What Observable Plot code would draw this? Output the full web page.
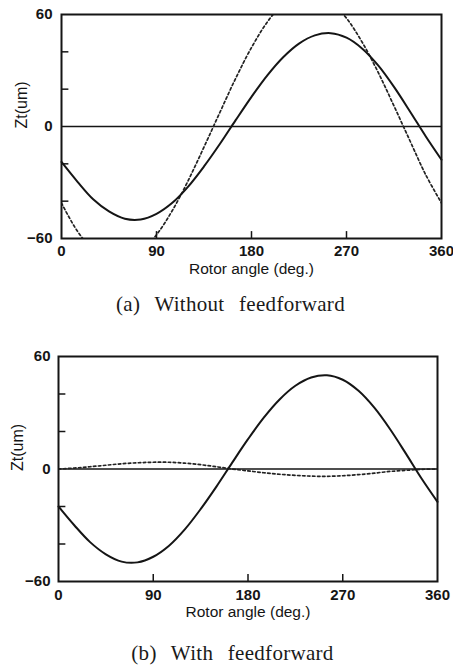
<!DOCTYPE html>
<html><head><meta charset="utf-8">
<script src="https://cdn.jsdelivr.net/npm/d3@7"></script>
<script src="https://cdn.jsdelivr.net/npm/@observablehq/plot@0.6"></script>
<style>
body{margin:0;background:#fff;width:453px;height:666px;position:relative;overflow:hidden}
.panel{position:absolute;left:0}
.cap{position:absolute;width:453px;text-align:center;font-family:"Liberation Serif","DejaVu Serif",serif;font-size:21px;line-height:24px;color:#1a1a1a;word-spacing:9px;letter-spacing:0.3px}
</style></head><body>
<div id="pa" class="panel" style="top:0"></div>
<div id="capA" class="cap" style="top:292px;left:4px">(a) Without feedforward</div>
<div id="pb" class="panel" style="top:330px"></div>
<div id="capB" class="cap" style="top:641px;left:6px">(b) With feedforward</div>
<script>
// Rotor angle samples (deg.)
const angles = [0,15,30,45,60,75,90,105,120,135,150,165,180,195,210,225,240,255,270,285,300,315,330,345,360];
// Zt (um), solid curve (measured), in each panel
const solidA = [-19,-29.5,-39,-45.5,-49.4,-49.8,-46.8,-40.9,-32.2,-21.4,-9.4,3.4,15.9,27.4,37.1,44.4,48.8,50,47.6,41.7,32.7,21.2,8.2,-5.2,-17.8];
const solidB = [-20,-30,-39,-45.5,-49.4,-49.8,-46.8,-40.9,-32.2,-21.4,-9.4,3.4,15.9,27.4,37.1,44.4,48.8,50,47.6,41.7,32.7,21.2,8.2,-5.2,-17.5];
// Zt (um), dotted curve: (a) without feedforward (runs beyond the ±60 frame), (b) with feedforward
const dashedA = [-41,-56,-66,-71,-71.6,-67,-58,-45,-29,-11,7.5,25.8,42.3,56,65.8,71,71.6,67,58,45,29,11,-7.5,-25.8,-41];
const dashedB = [0,0.5,1.2,2,2.8,3.3,3.6,3.6,3.1,2.3,1.2,0,-1,-2,-2.8,-3.4,-3.8,-3.9,-3.6,-3,-2.2,-1.3,-0.7,-0.2,0];
// Axis ticks
const xTickLabels = [0,90,180,270,360];
const xInnerTicks = [90,180,270];
const yTickLabels = [60,0,-60];
const yInnerTicks = [40,20,-20,-40];
const xLabel = "Rotor angle (deg.)";
const yLabel = "Zt(um)";

function panel(solid, dashed, o) {
  const pts = vals => angles.map((a, i) => ({a, v: vals[i]}));
  const ink = "#151515";
  return Plot.plot({
    width: 453, height: o.h,
    marginTop: o.mt, marginBottom: o.mb, marginLeft: o.ml, marginRight: o.mr,
    x: {domain: [0, 360]},
    y: {domain: [-60, 60]},
    style: {fontFamily: "'Liberation Sans', Arial, sans-serif", color: ink, background: "#fff"},
    marks: [
      Plot.ruleY([0], {stroke: ink, strokeWidth: 1.6}),
      Plot.line(pts(dashed), {x: "a", y: "v", curve: "catmull-rom", stroke: "#222", strokeWidth: 1.7, strokeDasharray: "2.5,2.5", clip: true}),
      Plot.line(pts(solid), {x: "a", y: "v", curve: "catmull-rom", stroke: ink, strokeWidth: 2}),
      Plot.ruleX(xInnerTicks, {y1: -60, y2: -56.3, stroke: ink, strokeWidth: 1.5}),
      Plot.ruleY(yInnerTicks, {x1: 0, x2: 7, stroke: ink, strokeWidth: 1.5}),
      Plot.frame({stroke: ink, strokeWidth: 2}),
      Plot.axisX(xTickLabels, {tickSize: 0, tickPadding: o.xpad, fontSize: 15, fontWeight: "bold", label: null}),
      Plot.axisY(yTickLabels, {tickSize: 0, tickPadding: o.ypad, fontSize: 15, fontWeight: "bold", label: null}),
      Plot.text([xLabel], {frameAnchor: "bottom", dy: 35, fontSize: 15.5, fill: ink}),
      Plot.text([yLabel], {frameAnchor: "left", rotate: -90, dx: -o.ylab, dy: 2, fontSize: 16, fill: ink})
    ]
  });
}

document.getElementById("pa").append(panel(solidA, dashedA, {h: 285, mt: 14, mb: 47, ml: 61, mr: 12, xpad: 7, ypad: 9, ylab: 40}));
document.getElementById("pb").append(panel(solidB, dashedB, {h: 296, mt: 26, mb: 45, ml: 58, mr: 16, xpad: 8, ypad: 8, ylab: 41}));
</script>
</body></html>
